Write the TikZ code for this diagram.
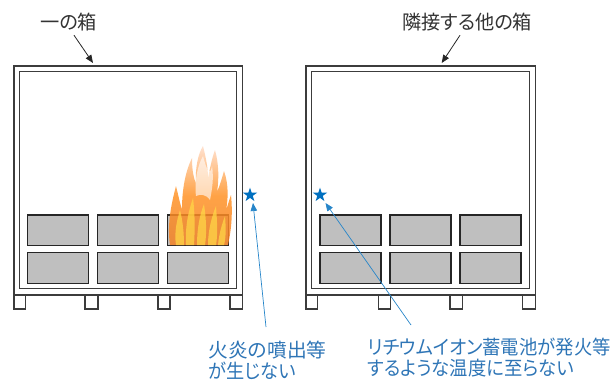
\documentclass[tikz,border=0pt]{standalone}
\usepackage{fontspec}
\usepackage{graphicx}
\setmainfont{Noto Sans CJK JP}[RawFeature={+palt}]
\usetikzlibrary{shapes.geometric,arrows.meta}
\definecolor{frame}{RGB}{60,60,60}
\definecolor{celledge}{RGB}{38,38,38}
\definecolor{cellfill}{RGB}{191,191,191}
\definecolor{noteblue}{RGB}{46,117,182}
\definecolor{starblue}{RGB}{0,112,192}
\definecolor{flameorange}{RGB}{244,128,36}
\definecolor{flamepale}{RGB}{255,220,200}
\definecolor{flameyellow}{RGB}{255,214,70}
% set a line of text to an exact width, keeping its height
\newcommand{\fitline}[2]{\resizebox{#1}{\height}{#2}}
\begin{document}
\begin{tikzpicture}[x=1pt,y=-1pt,
  boxline/.style={draw=frame,line width=1.3pt},
  cell/.style={draw=celledge,fill=cellfill,line width=1.5pt},
  foot/.style={draw=frame,fill=white,line width=1.2pt},
  caption/.style={font=\fontsize{19.5}{21}\selectfont,inner sep=0pt,text=black!80},
  remark/.style={caption,text=noteblue,align=left},
  starmark/.style={star,star points=5,star point ratio=2.6,fill=starblue,inner sep=0pt,minimum size=15pt},
  pointer/.style={draw=black!85,line width=0.8pt,-{Triangle[length=8pt,width=6.5pt]}},
  leader/.style={draw=starblue!85,line width=0.7pt,-{Triangle[length=8pt,width=6.5pt]}}]
\useasboundingbox (0,0) rectangle (616,381);

% --- the two containers: double-walled frame standing on feet ---
\foreach \xa/\xb/\xc/\xd in {14/242.7/19.3/236.3, 306/535.7/311.7/529.3}{
  \draw[boxline] (\xa,66) rectangle (\xb,295);
  \draw[boxline] (\xc,71.7) rectangle (\xd,288.3);
}
\foreach \fa/\fb in {14/25.7, 85/98, 158/170, 230/242.7,
                     306/317.3, 378.3/390.7, 450/462.7, 522.7/535.7}
  \draw[foot] (\fa,295) rectangle (\fb,309);

% --- battery modules, two rows of three per container ---
\foreach \ca/\cb in {27.7/88.3, 97.7/158.3, 167.7/228.7,
                     320/381, 390/451, 460/521}{
  \draw[cell] (\ca,215) rectangle (\cb,245.7);
  \draw[cell] (\ca,252.7) rectangle (\cb,283.3);
}

% --- flame rising from the burning module ---
\begin{scope}[fill opacity=0.85]
\shade[top color=flamepale, bottom color=flameorange, middle color=orange!85]
  (170,245) .. controls (167,225) and (171,205) .. (176,186)
  .. controls (179,198) and (180,204) .. (182,209)
  .. controls (182,188) and (186,170) .. (192,158)
  .. controls (192,172) and (194,178) .. (196,184)
  .. controls (195,168) and (198,154) .. (203,146)
  .. controls (206,158) and (208,168) .. (208,178)
  .. controls (210,168) and (212,158) .. (215,150)
  .. controls (219,164) and (219,180) .. (217,192)
  .. controls (220,185) and (222,178) .. (224,171)
  .. controls (229,185) and (228,200) .. (226,210)
  .. controls (228,205) and (229,200) .. (231,195)
  .. controls (233,214) and (231,232) .. (228,245) -- cycle;
\fill[white, fill opacity=0.6]
  (196,196) .. controls (194,180) and (198,165) .. (203,156)
  .. controls (206,168) and (210,178) .. (212,166)
  .. controls (214,178) and (212,190) .. (210,200)
  .. controls (206,194) and (200,194) .. (196,196) -- cycle;
\end{scope}
\begin{scope}[fill=flameyellow, fill opacity=0.75]
\fill (176,245) .. controls (174,232) and (177,220) .. (180,210)
  .. controls (183,222) and (184,234) .. (184,245) -- cycle;
\fill (186,245) .. controls (185,228) and (188,212) .. (193,198)
  .. controls (195,214) and (195,230) .. (194,245) -- cycle;
\fill (197,245) .. controls (197,228) and (200,214) .. (204,204)
  .. controls (206,218) and (207,232) .. (205,245) -- cycle;
\fill (208,245) .. controls (208,230) and (212,216) .. (216,206)
  .. controls (217,220) and (218,234) .. (216,245) -- cycle;
\fill (218,245) .. controls (219,234) and (222,224) .. (225,216)
  .. controls (226,228) and (226,238) .. (224,245) -- cycle;
\end{scope}

% --- container captions and their pointers ---
\node[caption, anchor=west] (capA) at (40,22) {\fitline{57pt}{一の箱}};
\node[caption, anchor=west] (capB) at (402,22) {\fitline{130pt}{隣接する他の箱}};
\coordinate (topA) at (93,63);
\coordinate (topB) at (441.7,63);
\draw[pointer] (capA.south -| 74,0) ++(0,4) -- (topA);
\draw[pointer] (capB.south -| 460,0) ++(0,4) -- (topB);

% --- measuring points and their notes ---
\node[starmark] (ptA) at (250,195) {};
\node[starmark] (ptB) at (320,195) {};
\node[remark, anchor=north west] (noteA) at (208.5,341)
  {\fitline{118pt}{火炎の噴出等}\\\fitline{87pt}{が生じない}};
\node[remark, anchor=north west] (noteB) at (367.5,338)
  {\fitline{243pt}{リチウムイオン蓄電池が発火等}\\\fitline{206pt}{するような温度に至らない}};
\coordinate (tailA) at (266,327);
\coordinate (tailB) at (411,325);
\draw[leader] (tailA) -- (253,203);
\draw[leader] (tailB) -- (325.5,203);
\end{tikzpicture}
\end{document}
